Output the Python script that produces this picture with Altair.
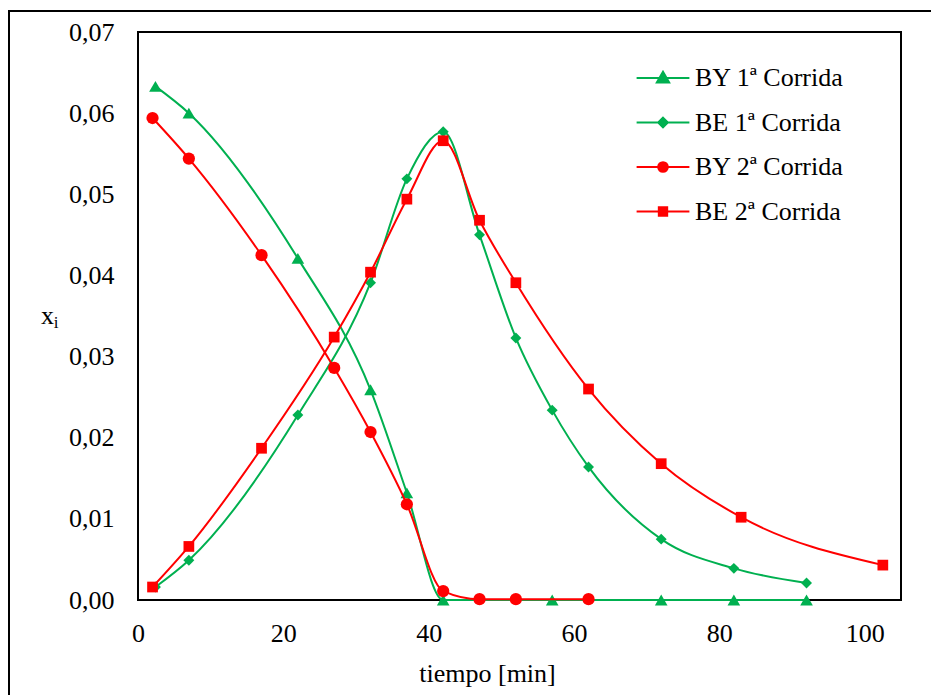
import altair as alt
import pandas as pd

# ---------------- data ----------------
series_names = ["BY 1ª Corrida", "BE 1ª Corrida", "BY 2ª Corrida", "BE 2ª Corrida"]
series_colors = ["#00B050", "#00B050", "#FF0000", "#FF0000"]
series_shapes = ["triangle-up", "diamond", "circle", "square"]
series_sizes = [160, 120, 150, 115]

t_by1 = [2.4, 7, 22, 32, 37, 42, 57, 72, 82, 92]
x_by1 = [0.0633, 0.0600, 0.0421, 0.0259, 0.0132, 0.0, 0.0, 0.0, 0.0, 0.0]

t_be1 = [2.4, 7, 22, 32, 37, 42, 47, 52, 57, 62, 72, 82, 92]
x_be1 = [0.0016, 0.0049, 0.0228, 0.0391, 0.0519, 0.0577, 0.0450, 0.0323,
         0.0234, 0.0164, 0.0075, 0.0039, 0.0021]

t_by2 = [2, 7, 17, 27, 32, 37, 42, 47, 52, 62]
x_by2 = [0.0594, 0.0544, 0.0425, 0.0286, 0.0207, 0.0118, 0.0011, 0.0001, 0.0001, 0.0001]

t_be2 = [2, 7, 17, 27, 32, 37, 42, 47, 52, 62, 72, 83, 102.5]
x_be2 = [0.0016, 0.0066, 0.0187, 0.0324, 0.0404, 0.0494, 0.0566, 0.0468,
         0.0391, 0.0260, 0.0168, 0.0102, 0.0043]

x_ticks = [0, 20, 40, 60, 80, 100]
y_ticks = [0.0, 0.01, 0.02, 0.03, 0.04, 0.05, 0.06, 0.07]

# legend symbols: a horizontal line with the marker on it
legend_paths = [
    "M-1.2,0H1.2M0,-0.28L0.28,0.2L-0.28,0.2Z",
    "M-1.2,0H1.2M0,-0.22L0.22,0L0,0.22L-0.22,0Z",
    "M-1.2,0H1.2M-0.22,0A0.22,0.22,0,1,0,0.22,0A0.22,0.22,0,1,0,-0.22,0Z",
    "M-1.2,0H1.2M-0.19,-0.19H0.19V0.19H-0.19Z",
]

series_t = [t_by1, t_be1, t_by2, t_be2]
series_x = [x_by1, x_be1, x_by2, x_be2]

frames = []
for name, ts, xs in zip(series_names, series_t, series_x):
    frames.append(pd.DataFrame({"t": ts, "x": xs, "serie": name}))
df = pd.concat(frames, ignore_index=True)

FONT = "Liberation Serif, Times New Roman, serif"

x_scale = alt.Scale(domain=[0, 105], nice=False, zero=False)
y_scale = alt.Scale(domain=[0, 0.07], nice=False)

x_axis = alt.Axis(
    values=x_ticks, grid=False, ticks=False, tickSize=0, domain=False,
    labelFont=FONT, labelFontSize=26, labelColor="#000000", labelPadding=20,
    labelFlush=False,
    title="tiempo [min]", titleFont=FONT, titleFontSize=26, titleFontWeight="normal",
    titleColor="#000000", titleX=349, titleY=81, titleAlign="center",
    titleBaseline="alphabetic", titleAnchor="start",
)
y_axis = alt.Axis(
    values=y_ticks, grid=False, ticks=False, tickSize=0, domain=False,
    labelExpr="replace(format(datum.value, '.2f'), '.', ',')",
    labelFont=FONT, labelFontSize=26, labelColor="#000000", labelPadding=24,
    labelFlush=False,
    title="x", titleFont=FONT, titleFontSize=26, titleFontWeight="normal",
    titleColor="#000000", titleAngle=0, titleX=-91, titleY=291,
    titleAlign="center", titleBaseline="alphabetic", titleAnchor="start",
)

one_row = pd.DataFrame({"k": [0]})

frame = alt.Chart(one_row).mark_rect(
    fillOpacity=0, stroke="black", strokeWidth=2
).encode(
    x=alt.value(-129), x2=alt.value(900), y=alt.value(-21), y2=alt.value(800)
)

layers = [frame]
for name, col, shp, sz in zip(series_names, series_colors, series_shapes, series_sizes):
    sub = df[df["serie"] == name]
    base = alt.Chart(sub).encode(
        x=alt.X("t:Q", scale=x_scale, axis=x_axis),
        y=alt.Y("x:Q", scale=y_scale, axis=y_axis),
    )
    layers.append(base.mark_line(color=col, strokeWidth=2, interpolate="monotone"))
    layers.append(base.mark_point(shape=shp, filled=True, size=sz, color=col, opacity=1))

leg = alt.Legend(
    title=None, orient="none", legendX=502, legendY=23, padding=0,
    labelFont=FONT, labelFontSize=26, labelColor="#000000", labelLimit=500,
    symbolSize=1936, symbolStrokeWidth=2, rowPadding=8.5, labelOffset=9,
    symbolOffset=0,
)

legend_layer = alt.Chart(df).transform_filter("false").mark_point(
    filled=True, strokeWidth=2, opacity=1
).encode(
    shape=alt.Shape("serie:N", scale=alt.Scale(domain=series_names, range=legend_paths), legend=leg),
    fill=alt.Fill("serie:N", scale=alt.Scale(domain=series_names, range=series_colors), legend=leg),
    stroke=alt.Stroke("serie:N", scale=alt.Scale(domain=series_names, range=series_colors), legend=leg),
)
layers.append(legend_layer)

sub_i = alt.Chart(one_row).mark_text(
    text="i", font=FONT, fontSize=17, color="#000000", align="center", baseline="alphabetic"
).encode(x=alt.value(-82), y=alt.value(296))
layers.append(sub_i)

chart = alt.layer(*layers).properties(
    width=763, height=568,
    autosize=alt.AutoSizeParams(type="none"),
    padding={"left": 138, "top": 32, "right": 30, "bottom": 95},
    background="white",
).configure_view(stroke="black", strokeWidth=2)

chart.save("out.html", embed_options={"renderer": "svg", "actions": False})
